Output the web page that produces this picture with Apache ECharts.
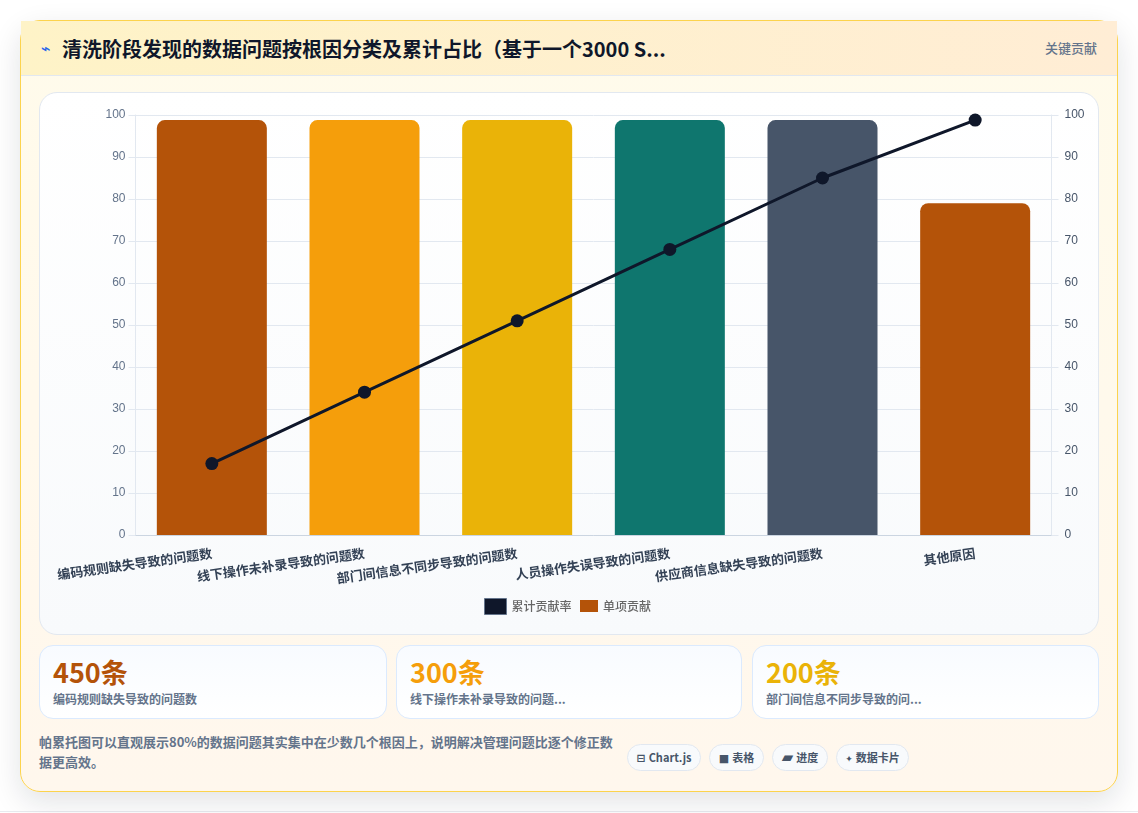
<!DOCTYPE html>
<html lang="zh-CN">
<head>
<meta charset="utf-8">
<title>数据问题根因帕累托图</title>
<script src="https://cdn.jsdelivr.net/npm/echarts@6/dist/echarts.min.js"></script>
<style>
  html, body { margin: 0; padding: 0; width: 1138px; height: 813px; overflow: hidden; background: #fff; }
  body { font-family: "Noto Sans CJK SC", "Noto Sans", sans-serif; position: relative; }
  .baseline { position: absolute; left: 0; right: 0; top: 811px; height: 1px; background: #e9ebef; }
  .panel { position: absolute; left: 20px; top: 20px; width: 1096px; height: 770px; border: 1px solid #fcd34d; border-radius: 20px;
           background: linear-gradient(180deg, #fffbeb 0%, #fff7ed 100%); box-shadow: 0 10px 30px rgba(15, 23, 42, 0.12); }
  .head { position: absolute; left: 21px; top: 21px; width: 1096px; height: 54px; border-bottom: 1px solid #e2e8f0;
          background: linear-gradient(90deg, #fef3c7 0%, #ffedd5 100%); }
  .bolt { position: absolute; left: 41px; top: 38px; font-size: 16px; line-height: 22px; color: #2563eb; font-family: "DejaVu Sans"; font-weight: 700; }
  .title { position: absolute; left: 62px; top: 35px; font-size: 20px; line-height: 28px; font-weight: 700; color: #0f172a; white-space: nowrap; }
  .tag { position: absolute; right: 41px; top: 38px; font-size: 13px; line-height: 20px; font-weight: 500; color: #64748b; }
  .chart-card { position: absolute; left: 39px; top: 92px; width: 1058px; height: 541px; border: 1px solid #e2e8f0; border-radius: 18px;
                background: linear-gradient(180deg, #ffffff 0%, #f8fafc 100%); }
  #chart { position: absolute; left: 0; top: 0; width: 1058px; height: 541px; }
  .stat { position: absolute; top: 645px; height: 72px; border: 1px solid #dbeafe; border-radius: 14px;
          background: linear-gradient(180deg, #f8fbff 0%, #ffffff 100%); }
  .stat b { position: absolute; left: 13px; top: 9px; font-size: 27px; line-height: 34px; font-weight: 700; white-space: nowrap; }
  .stat span { position: absolute; left: 13px; top: 44px; font-size: 12px; line-height: 18px; font-weight: 600; color: #64748b; white-space: nowrap; }
  .note { position: absolute; left: 39px; top: 732px; width: 582px; font-size: 13px; line-height: 20px; font-weight: 600; color: #64748b; }
  .chip { position: absolute; top: 744px; height: 27px; box-sizing: border-box; border: 1px solid #e2e8f0; border-radius: 14px; background: #f8fafc;
          font-size: 11px; line-height: 25px; font-weight: 700; color: #475569; text-align: center; white-space: nowrap; }
  .chip i { font-style: normal; font-family: "DejaVu Sans"; margin-right: 3px; }
</style>
</head>
<body>
<div class="baseline"></div>
<div class="panel"></div>
<div class="head"></div>
<div class="bolt">⌁</div>
<div class="title" id="title"></div>
<div class="tag" id="tag"></div>
<div class="chart-card"><div id="chart"></div></div>
<div id="stats"></div>
<div class="note" id="note"></div>
<div id="chips"></div>
<script>
// Root-cause categories, in Pareto order
const categories = ['编码规则缺失导致的问题数', '线下操作未补录导致的问题数', '部门间信息不同步导致的问题数', '人员操作失误导致的问题数', '供应商信息缺失导致的问题数', '其他原因'];
// Bar heights on the shared 0-100 scale
const singleValues = [98.8, 98.8, 98.8, 98.8, 98.8, 79];
// Running share for the line
const cumulativeValues = [17, 34, 51, 68, 85, 98.8];
const barColors = ['#b45309', '#f59e0b', '#eab308', '#0f766e', '#475569', '#b45309'];
const seriesNames = ['累计贡献率', '单项贡献'];
const axisMin = 0, axisMax = 100, axisStep = 10;

const titleText = '清洗阶段发现的数据问题按根因分类及累计占比（基于一个3000 S...';
const tagText = '关键贡献';
const noteText = '帕累托图可以直观展示80%的数据问题其实集中在少数几个根因上，说明解决管理问题比逐个修正数据更高效。';
const statValues = ['450条', '300条', '200条'];
const statLabels = ['编码规则缺失导致的问题数', '线下操作未补录导致的问题...', '部门间信息不同步导致的问...'];
const statColors = ['#b45309', '#f59e0b', '#eab308'];
const statBoxes = [[39, 346], [396, 344], [752, 345]];
const chipIcons = ['⊟', '■', '▰', '✦'];
const chipLabels = ['Chart.js', '表格', '进度', '数据卡片'];
const chipIconSizes = [11, 11, 15, 9];
const chipBoxes = [[627, 74], [709, 55], [772, 56], [836, 73]];

document.getElementById('title').textContent = titleText;
document.getElementById('tag').textContent = tagText;
document.getElementById('note').textContent = noteText;

document.getElementById('stats').innerHTML = statValues.map((v, i) =>
  `<div class="stat" style="left:${statBoxes[i][0]}px;width:${statBoxes[i][1]}px"><b style="color:${statColors[i]}">${v}</b><span>${statLabels[i]}</span></div>`).join('');
document.getElementById('chips').innerHTML = chipLabels.map((t, i) =>
  `<div class="chip" style="left:${chipBoxes[i][0]}px;width:${chipBoxes[i][1]}px"><i style="font-size:${chipIconSizes[i]}px">${chipIcons[i]}</i>${t}</div>`).join('');

const valueAxis = (color, margin) => ({
  type: 'value',
  min: axisMin,
  max: axisMax,
  interval: axisStep,
  axisLine: { show: true, lineStyle: { color: '#e2e8f0', width: 1 } },
  axisTick: { show: true, length: 7, lineStyle: { color: '#e2e8f0', width: 1 } },
  axisLabel: { color, fontSize: 12, fontFamily: 'Liberation Sans', margin, padding: [4, 0, 0, 0] },
  splitLine: { show: true, lineStyle: { color: '#e2e8f0', width: 1 } }
});

const legendText = { color: '#666666', fontSize: 12, fontWeight: 500, fontFamily: 'Noto Sans CJK SC' };

const chart = echarts.init(document.getElementById('chart'), null, { renderer: 'canvas' });
chart.setOption({
  animation: false,
  backgroundColor: 'transparent',
  grid: { left: 95.5, right: 46.5, top: 22, bottom: 99, containLabel: false },
  legend: [
    {
      top: 500,
      left: 439,
      itemWidth: 22,
      itemHeight: 16,
      data: [{ name: seriesNames[0], icon: 'rect', itemStyle: { color: '#0f172a', borderColor: '#64748b', borderWidth: 1 } }],
      textStyle: legendText
    },
    {
      top: 502,
      left: 535,
      itemWidth: 18,
      itemHeight: 12,
      data: [{ name: seriesNames[1], icon: 'rect', itemStyle: { color: '#b45309' } }],
      textStyle: legendText
    }
  ],
  xAxis: {
    type: 'category',
    data: categories,
    axisLine: { show: true, lineStyle: { color: '#cbd5e1', width: 1 } },
    axisTick: { show: false },
    splitLine: { show: false },
    axisLabel: {
      interval: 0,
      rotate: 8,
      margin: 18,
      color: '#334155',
      fontSize: 13,
      fontWeight: 600,
      fontFamily: 'Noto Sans CJK SC'
    }
  },
  yAxis: [valueAxis('#64748b', 10), Object.assign(valueAxis('#475569', 13), { position: 'right', splitLine: { show: false } })],
  series: [
    {
      name: seriesNames[0],
      type: 'line',
      yAxisIndex: 1,
      z: 5,
      data: cumulativeValues,
      symbol: 'circle',
      symbolSize: 13,
      lineStyle: { color: '#0f172a', width: 3 },
      itemStyle: { color: '#0f172a' }
    },
    {
      name: seriesNames[1],
      type: 'bar',
      z: 2,
      barWidth: 110,
      data: singleValues.map((value, i) => ({ value, itemStyle: { color: barColors[i] } })),
      itemStyle: { borderRadius: [8, 8, 0, 0] }
    }
  ]
});
</script>
</body>
</html>
